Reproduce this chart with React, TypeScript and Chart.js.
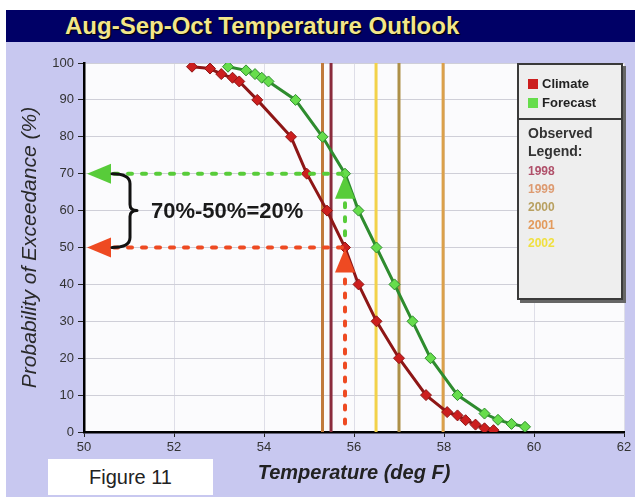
import React, { useEffect, useRef } from 'react';
import { Chart, registerables } from 'chart.js';

Chart.register(...registerables);

// ---------- data ----------
const titleText = 'Aug-Sep-Oct Temperature Outlook';
const xAxisTitle = 'Temperature (deg F)';
const yAxisTitle = 'Probability of Exceedance (%)';
const figureLabel = 'Figure 11';

const climateTemps = [52.4, 52.8, 53.05, 53.3, 53.45, 53.85, 54.6, 54.95, 55.4, 55.8, 56.1, 56.5, 57.0, 57.6, 58.07, 58.3, 58.48, 58.7, 58.9, 59.1];
const climateProbs = [99, 98.5, 97, 96, 95, 90, 80, 70, 60, 50, 40, 30, 20, 10, 5.4, 4.5, 3.2, 2, 1, 0.5];

const forecastTemps = [53.2, 53.6, 53.8, 53.95, 54.1, 54.7, 55.3, 55.8, 56.1, 56.5, 56.9, 57.3, 57.7, 58.3, 58.9, 59.2, 59.5, 59.8];
const forecastProbs = [99, 98, 97, 96, 95, 90, 80, 70, 60, 50, 40, 30, 20, 10, 5, 3.3, 2.2, 1.4];

const observedYears = ['1998', '1999', '2000', '2001', '2002'];
const observedTemps = [55.49, 55.3, 57.0, 57.98, 56.49];

const seriesNames = ['Climate', 'Forecast'];
const legendSubtitle = ['Observed', 'Legend:'];

const xMin = 50;
const xMax = 62;
const xStep = 2;
const yMin = 0;
const yMax = 100;
const yStep = 10;

const forecastProb = 70;
const climateProb = 50;
const crossTemp = 55.8;
const diffLabel = '70%-50%=20%';

// ---------- styles ----------
const climateLine = '#8e1616';
const climateMarker = '#cc1e1e';
const forecastLine = '#2e8c2e';
const forecastMarker = '#66dd4c';
const observedColors = ['#8a2b3c', '#c07a3c', '#ad9048', '#dba04a', '#f2d24a'];
const observedTextColors = ['#b0506a', '#dd9a70', '#b8a060', '#e39a5c', '#f0e040'];
const greenArrow = '#58cc3a';
const redArrow = '#ee4a22';
const font = '"Liberation Sans", Arial, sans-serif';

const plotBackground = {
  id: 'plotBackground',
  beforeDraw(chart: any) {
    const { ctx, chartArea } = chart;
    ctx.save();
    ctx.fillStyle = '#fbfbfd';
    ctx.fillRect(chartArea.left, chartArea.top, chartArea.right - chartArea.left, chartArea.bottom - chartArea.top);
    ctx.restore();
  },
};

const annotations = {
  id: 'annotations',
  afterDatasetsDraw(chart: any) {
    const { ctx } = chart;
    const xs = chart.scales.x;
    const ys = chart.scales.y;
    const x0 = xs.getPixelForValue(xMin);
    const xc = xs.getPixelForValue(crossTemp);
    const yHi = ys.getPixelForValue(forecastProb);
    const yLo = ys.getPixelForValue(climateProb);
    const yBot = ys.getPixelForValue(yMin);
    const arrowLen = 24;
    const arrowHalf = 10;

    ctx.save();
    ctx.lineWidth = 4;
    ctx.lineCap = 'round';
    ctx.setLineDash([4, 10]);

    // green horizontal
    ctx.strokeStyle = greenArrow;
    ctx.beginPath();
    ctx.moveTo(x0 + arrowLen + 6, yHi);
    ctx.lineTo(xc + 4, yHi);
    ctx.stroke();
    // green vertical
    ctx.beginPath();
    ctx.moveTo(xc, ys.getPixelForValue(62));
    ctx.lineTo(xc, ys.getPixelForValue(52));
    ctx.stroke();

    // red horizontal
    ctx.strokeStyle = redArrow;
    ctx.beginPath();
    ctx.moveTo(x0 + arrowLen + 6, yLo);
    ctx.lineTo(xc + 4, yLo);
    ctx.stroke();
    // red vertical
    ctx.beginPath();
    ctx.moveTo(xc, yLo + arrowLen + 8);
    ctx.lineTo(xc, yBot - 2);
    ctx.stroke();
    ctx.setLineDash([]);

    const tri = (ax: number, ay: number, b1x: number, b1y: number, b2x: number, b2y: number, c: string) => {
      ctx.fillStyle = c;
      ctx.beginPath();
      ctx.moveTo(ax, ay);
      ctx.lineTo(b1x, b1y);
      ctx.lineTo(b2x, b2y);
      ctx.closePath();
      ctx.fill();
    };
    // left-pointing arrowheads
    tri(x0 + 3, yHi, x0 + 3 + arrowLen, yHi - arrowHalf, x0 + 3 + arrowLen, yHi + arrowHalf, greenArrow);
    tri(x0 + 3, yLo, x0 + 3 + arrowLen, yLo - arrowHalf, x0 + 3 + arrowLen, yLo + arrowHalf, redArrow);
    // up-pointing arrowheads
    tri(xc, yHi + 1, xc - arrowHalf, yHi + 1 + arrowLen, xc + arrowHalf, yHi + 1 + arrowLen, greenArrow);
    tri(xc, yLo + 1, xc - arrowHalf, yLo + 1 + arrowLen, xc + arrowHalf, yLo + 1 + arrowLen, redArrow);

    // brace
    const yMid = (yHi + yLo) / 2;
    const bx = x0 + 46;
    ctx.strokeStyle = '#111';
    ctx.lineWidth = 3;
    ctx.lineCap = 'round';
    ctx.lineJoin = 'round';
    ctx.beginPath();
    ctx.moveTo(x0 + 28, yHi);
    ctx.quadraticCurveTo(bx, yHi, bx, yHi + 10);
    ctx.lineTo(bx, yMid - 6);
    ctx.quadraticCurveTo(bx, yMid, bx + 7, yMid);
    ctx.quadraticCurveTo(bx, yMid, bx, yMid + 6);
    ctx.lineTo(bx, yLo - 10);
    ctx.quadraticCurveTo(bx, yLo, x0 + 28, yLo);
    ctx.stroke();

    ctx.fillStyle = '#1a1a1a';
    ctx.font = `bold 22px ${font}`;
    ctx.textBaseline = 'middle';
    ctx.textAlign = 'left';
    ctx.fillText(diffLabel, x0 + 67, yMid + 1);
    ctx.restore();
  },
};

export default function App() {
  const canvasRef = useRef<HTMLCanvasElement>(null);

  useEffect(() => {
    const canvas = canvasRef.current;
    if (!canvas) return;
    const toPoints = (xs: number[], ys: number[]) => xs.map((x, i) => ({ x, y: ys[i] }));

    const observedSets = observedYears.map((year, i) => ({
      label: year,
      data: [
        { x: observedTemps[i], y: yMin },
        { x: observedTemps[i], y: yMax },
      ],
      showLine: true,
      borderColor: observedColors[i],
      borderWidth: 3,
      pointRadius: 0,
      order: 10,
    }));

    const chart = new Chart(canvas, {
      type: 'scatter',
      data: {
        datasets: [
          {
            label: seriesNames[1],
            data: toPoints(forecastTemps, forecastProbs),
            showLine: true,
            borderColor: forecastLine,
            borderWidth: 3,
            pointStyle: 'rectRot',
            pointRadius: 5.5,
            pointBackgroundColor: forecastMarker,
            pointBorderColor: forecastLine,
            pointBorderWidth: 1,
            order: 1,
          },
          {
            label: seriesNames[0],
            data: toPoints(climateTemps, climateProbs),
            showLine: true,
            borderColor: climateLine,
            borderWidth: 3,
            pointStyle: 'rectRot',
            pointRadius: 5.5,
            pointBackgroundColor: climateMarker,
            pointBorderColor: climateLine,
            pointBorderWidth: 1,
            order: 2,
          },
          ...observedSets,
        ] as any,
      },
      options: {
        animation: false,
        responsive: false,
        maintainAspectRatio: false,
        layout: { padding: { left: 14, top: 63, right: 11, bottom: 8 } },
        plugins: { legend: { display: false }, tooltip: { enabled: false } },
        scales: {
          x: {
            type: 'linear',
            min: xMin,
            max: xMax,
            ticks: { stepSize: xStep, color: '#333', font: { family: font, size: 13 }, padding: 3 },
            grid: { color: '#dedee8', tickLength: 5, tickColor: '#222' },
            border: { display: true, color: '#000', width: 2.5 },
            title: { display: true, text: xAxisTitle, color: '#222', font: { family: font, size: 20, weight: 'bold', style: 'italic' } },
            afterFit: (s: any) => {
              s.height = 57;
              s.paddingLeft = 0;
              s.paddingRight = 0;
            },
          },
          y: {
            type: 'linear',
            min: yMin,
            max: yMax,
            ticks: { stepSize: yStep, color: '#333', font: { family: font, size: 13 }, padding: 4 },
            grid: { color: '#cfcfd8', tickLength: 6, tickColor: '#222' },
            border: { display: true, color: '#000', width: 2.5 },
            title: { display: true, text: yAxisTitle, color: '#2a2a2a', font: { family: font, size: 21, style: 'italic' } },
            afterFit: (s: any) => {
              s.width = 70;
              s.paddingTop = 0;
              s.paddingBottom = 0;
            },
          },
        },
      } as any,
      plugins: [plotBackground, annotations],
    });
    return () => chart.destroy();
  }, []);

  return (
    <div style={{ position: 'fixed', left: 0, top: 0, width: 635, height: 497, background: '#fff', overflow: 'hidden' }}>
      <div style={{ position: 'absolute', left: 6, top: 42, width: 629, height: 455, background: '#c8c8f0' }} />
      <div
        style={{
          position: 'absolute', left: 6, top: 10, width: 629, height: 32, background: '#000066',
        }}
      >
        <div
          style={{
            position: 'absolute', left: 59, top: 0, lineHeight: '32px', fontFamily: font, fontWeight: 'bold', fontSize: 24,
            color: '#f2e68a', textShadow: '1px 1px 1px #000', whiteSpace: 'nowrap',
          }}
        >
          {titleText}
        </div>
      </div>
      <canvas ref={canvasRef} width={635} height={497} style={{ position: 'absolute', left: 0, top: 0, width: 635, height: 497 }} />
      <div
        style={{
          position: 'absolute', left: 517, top: 63, width: 102, height: 233, background: '#eeeeee',
          border: '2px solid #3a3a3a', boxShadow: '3px 3px 0 #666', fontFamily: font,
        }}
      >
        <div style={{ height: 55, borderBottom: '2px solid #3a3a3a', boxSizing: 'border-box', paddingTop: 9, paddingLeft: 9 }}>
          {[climateMarker, forecastMarker].map((c, i) => (
            <div key={i} style={{ display: 'flex', alignItems: 'center', height: 19 }}>
              <span style={{ display: 'inline-block', width: 10, height: 10, background: c, marginRight: 4 }} />
              <span style={{ fontWeight: 'bold', fontSize: 13, color: '#222' }}>{seriesNames[i]}</span>
            </div>
          ))}
        </div>
        <div style={{ paddingLeft: 9, paddingTop: 4 }}>
          {legendSubtitle.map((t) => (
            <div key={t} style={{ fontWeight: 'bold', fontSize: 14, lineHeight: '18px', color: '#333' }}>{t}</div>
          ))}
          <div style={{ height: 2 }} />
          {observedYears.map((yr, i) => (
            <div key={yr} style={{ fontWeight: 'bold', fontSize: 12, lineHeight: '18px', color: observedTextColors[i] }}>{yr}</div>
          ))}
        </div>
      </div>
      <div
        style={{
          position: 'absolute', left: 48, top: 459, width: 165, height: 36, background: '#fff',
          fontFamily: font, fontSize: 20, color: '#222', lineHeight: '36px', textAlign: 'center',
        }}
      >
        {figureLabel}
      </div>
    </div>
  );
}
